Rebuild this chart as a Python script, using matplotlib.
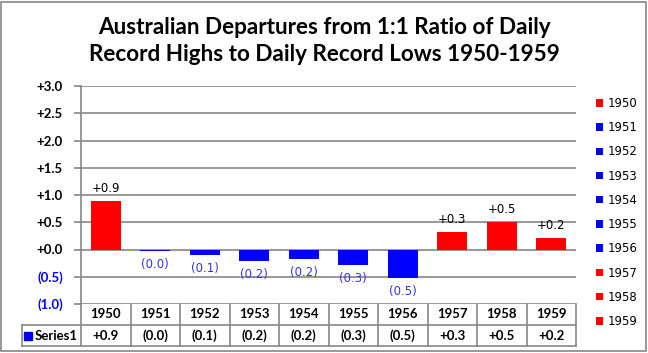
import matplotlib
matplotlib.use("Agg")
import matplotlib.pyplot as plt
from matplotlib.patches import Patch, Rectangle
from matplotlib.lines import Line2D

# chart data
years = ["1950", "1951", "1952", "1953", "1954", "1955", "1956", "1957", "1958", "1959"]
values = [0.89, -0.02, -0.10, -0.21, -0.18, -0.29, -0.53, 0.33, 0.51, 0.22]
yticks = [-1.0, -0.5, 0.0, 0.5, 1.0, 1.5, 2.0, 2.5, 3.0]
series_name = "Series1"
title = "Australian Departures from 1:1 Ratio of Daily\nRecord Highs to Daily Record Lows 1950-1959"

RED = "#ff0000"
BLUE = "#0000ff"
LBLUE = "#3333dd"
GRID = "#868686"
W, H = 648, 353


def fmt(v):
    if v < 0:
        return "({:.1f})".format(abs(v))
    return "+{:.1f}".format(v)


def fx(px):
    return px / W


def fy(py):
    return 1 - py / H


fig = plt.figure(figsize=(6.48, 3.53), dpi=100)
fig.patch.set_facecolor("white")
fig.add_artist(Rectangle((fx(0.5), fy(351)), fx(645), 349.5 / H, transform=fig.transFigure,
                         fill=False, edgecolor=GRID, linewidth=1.2))

fig.text(0.5, fy(41), title, ha="center", va="center", fontsize=16.2,
         fontweight="bold", family="Lato", linespacing=1.3)

# main plot
ax = fig.add_axes([fx(81), fy(304), fx(576 - 81), (304 - 86) / H])
colors = [RED if v >= 0 else BLUE for v in values]
x = list(range(len(years)))
ax.bar(x, values, width=0.6, color=colors, zorder=3)
ax.set_xlim(-0.5, len(years) - 0.5)
ax.set_ylim(-1.0, 3.0)
ax.set_yticks(yticks)
ax.set_yticklabels([fmt(t) for t in yticks], family="Lato", fontweight="bold", fontsize=9.5)
for lab, t in zip(ax.get_yticklabels(), yticks):
    lab.set_color(BLUE if t < 0 else "black")
ax.set_xticks([])
ax.grid(axis="y", color=GRID, linewidth=1.2, zorder=0)
for s in ["top", "right", "bottom"]:
    ax.spines[s].set_visible(False)
ax.spines["left"].set_color(GRID)
ax.spines["left"].set_linewidth(1.2)
ax.tick_params(axis="y", length=5, width=1.2, color=GRID, pad=8)

for xi, v in zip(x, values):
    if v >= 0:
        ax.annotate(fmt(v), (xi, v), xytext=(0, 4), textcoords="offset points",
                    ha="center", va="bottom", fontsize=8.5, color="black")
    else:
        ax.annotate(fmt(v), (xi, v), xytext=(0, -5), textcoords="offset points",
                    ha="center", va="top", fontsize=8.5, color=LBLUE)

# data table under the plot
tax = fig.add_axes([fx(81), fy(346), fx(576 - 81), 42 / H])
tax.set_xlim(-0.5, len(years) - 0.5)
tax.set_ylim(0, 2)
tax.axis("off")
left = -0.5 - (81 - 22) / ((576 - 81) / len(years))
kw = dict(color=GRID, linewidth=1.2, clip_on=False)
tax.add_line(Line2D([left, len(years) - 0.5], [0, 0], **kw))
tax.add_line(Line2D([left, len(years) - 0.5], [1, 1], **kw))
tax.add_line(Line2D([left, left], [0, 1], **kw))
for i in range(len(years) + 1):
    tax.add_line(Line2D([i - 0.5, i - 0.5], [0, 2], **kw))
for xi, yr, v in zip(x, years, values):
    tax.text(xi, 1.5, yr, ha="center", va="center", family="Lato",
             fontweight="bold", fontsize=9.5)
    tax.text(xi, 0.5, fmt(v), ha="center", va="center", family="Lato",
             fontweight="bold", fontsize=9.5)
tax.plot([left + 0.13], [0.5], marker="s", markersize=6, color=BLUE, clip_on=False)
tax.text(left + 0.25, 0.5, series_name, ha="left", va="center", family="Lato",
         fontweight="bold", fontsize=9.5)

# legend
handles = [Patch(facecolor=c, edgecolor="none") for c in colors]
fig.legend(handles, years, loc="upper left", bbox_to_anchor=(fx(596), fy(97)),
           frameon=False, fontsize=8.5, handlelength=0.6, handleheight=0.6,
           handletextpad=0.35, labelspacing=0.95, borderpad=0, borderaxespad=0)

fig.savefig("out.png", dpi=100)
